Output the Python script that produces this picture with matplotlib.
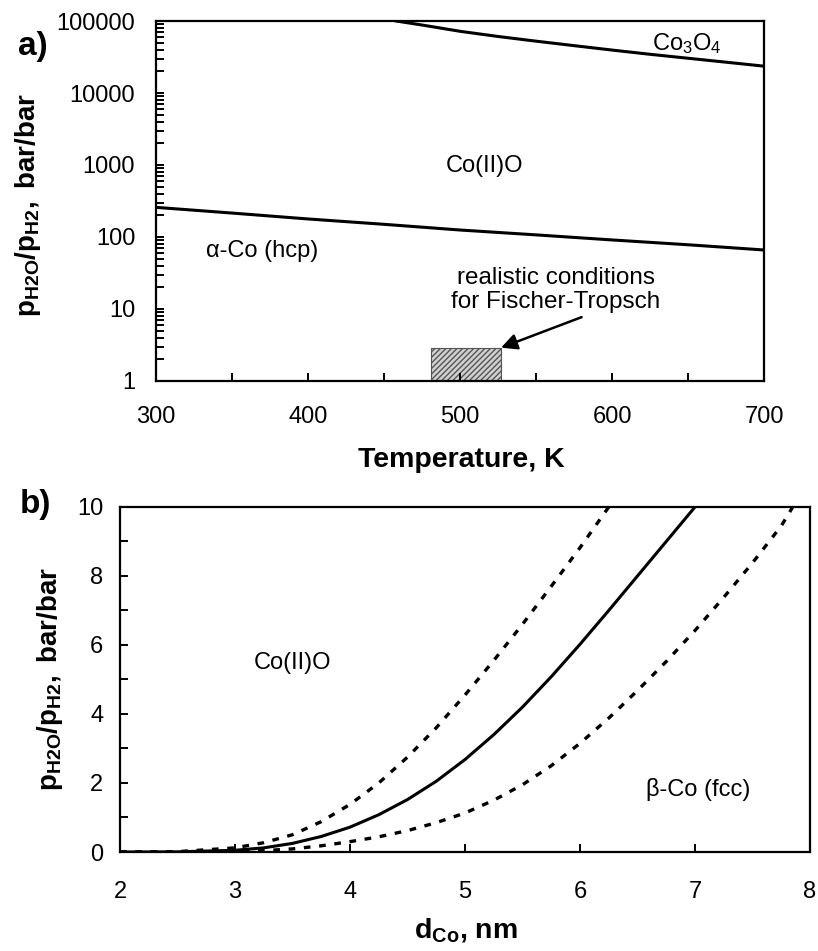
import matplotlib
matplotlib.use("Agg")
import matplotlib.pyplot as plt
import numpy as np
from matplotlib.ticker import FixedLocator, FuncFormatter, MultipleLocator, LogLocator, NullFormatter

plt.rcParams['font.family'] = ['Liberation Sans', 'DejaVu Sans']
plt.rcParams['mathtext.fontset'] = 'custom'
plt.rcParams['mathtext.rm'] = 'Liberation Sans'
plt.rcParams['mathtext.it'] = 'Liberation Sans:italic'
plt.rcParams['mathtext.bf'] = 'Liberation Sans:bold'

# panel a: phase boundaries vs temperature
t_co3o4 = [458, 475, 500, 525, 550, 575, 600, 625, 650, 675, 700]
p_co3o4 = [100000, 88000, 72000, 61000, 52500, 45500, 39500, 34500, 30400, 26800, 23600]
t_coo = [300, 350, 400, 450, 500, 550, 600, 650, 700]
p_coo = [258, 215, 178, 150, 125, 107, 91, 78, 66]
ft_box_t = [481, 527]
ft_box_p = [1, 2.9]

# panel b: boundary vs particle size
d_mid = [2, 2.5, 3, 3.25, 3.5, 3.75, 4, 4.25, 4.5, 4.75, 5, 5.25, 5.5, 5.75, 6, 6.25, 6.5, 6.75, 7]
p_mid = [0, 0.005, 0.05, 0.12, 0.25, 0.45, 0.72, 1.08, 1.52, 2.05, 2.68, 3.4, 4.2, 5.08, 6.02, 7.0, 8.0, 9.0, 10.0]
d_up = [2, 2.5, 3, 3.25, 3.5, 3.75, 4, 4.25, 4.5, 4.75, 5, 5.25, 5.5, 5.75, 6, 6.25]
p_up = [0, 0.01, 0.12, 0.27, 0.5, 0.88, 1.38, 2.0, 2.75, 3.6, 4.55, 5.55, 6.6, 7.7, 8.82, 10.0]
d_lo = [2, 2.5, 3, 3.25, 3.5, 3.75, 4, 4.25, 4.5, 4.75, 5, 5.25, 5.5, 5.75, 6, 6.25,
        6.5, 6.75, 7, 7.25, 7.5, 7.75, 7.85]
p_lo = [0, 0.0, 0.01, 0.04, 0.09, 0.18, 0.3, 0.44, 0.62, 0.85, 1.13, 1.5, 1.95, 2.5, 3.15, 3.88,
        4.68, 5.52, 6.42, 7.38, 8.38, 9.45, 10.0]

fig = plt.figure(figsize=(8.18, 9.51), dpi=100)
ax1 = fig.add_axes([0.1907, 0.5994, 0.7433, 0.3785])
ax2 = fig.add_axes([0.1467, 0.1041, 0.8435, 0.3628])

tick_fs = 17
txt_fs = 17
for ax in (ax1, ax2):
    for s in ax.spines.values():
        s.set_linewidth(1.6)
    ax.tick_params(which='both', direction='in', length=6, width=1.4,
                   top=False, right=False, labelsize=tick_fs)

# ---- panel a ----
ax1.plot(t_co3o4, p_co3o4, color='black', lw=2.2)
ax1.plot(t_coo, p_coo, color='black', lw=2.2)
ax1.fill_between(ft_box_t, ft_box_p[0], ft_box_p[1], facecolor='#d0d0d0',
                 edgecolor='#555555', hatch='//////', lw=0.8)
ax1.set_yscale('log')
ax1.set_xlim(300, 700)
ax1.set_ylim(1, 100000)
ax1.xaxis.set_major_locator(FixedLocator([300, 400, 500, 600, 700]))
ax1.xaxis.set_minor_locator(FixedLocator([350, 450, 550, 650]))
ax1.yaxis.set_major_locator(LogLocator(base=10))
ax1.yaxis.set_minor_locator(LogLocator(base=10, subs=np.arange(2, 10)))
ax1.yaxis.set_minor_formatter(NullFormatter())
ax1.yaxis.set_major_formatter(FuncFormatter(lambda v, p: '%d' % round(v)))
ax1.tick_params(axis='x', which='both', pad=18)
ax1.tick_params(axis='y', which='both', pad=15)

ax1.text(649, 49000, r'Co$_3$O$_4$', fontsize=txt_fs, ha='center', va='center')
ax1.text(516, 980, 'Co(II)O', fontsize=txt_fs, ha='center', va='center')
ax1.text(370, 63, 'α-Co (hcp)', fontsize=txt_fs, ha='center', va='center')
ax1.text(563, 18.3, 'realistic conditions\nfor Fischer-Tropsch', fontsize=17.5,
         ha='center', va='center', linespacing=1.12)
ax1.annotate('', xy=(527, 2.9), xytext=(580, 7.7),
             arrowprops=dict(arrowstyle='-|>', color='black', lw=1.8,
                             mutation_scale=24, shrinkA=0, shrinkB=0))

# ---- panel b ----
ax2.plot(d_mid, p_mid, color='black', lw=2.2)
ax2.plot(d_up, p_up, color='black', lw=2.4, linestyle=(0, (2, 2.6)))
ax2.plot(d_lo, p_lo, color='black', lw=2.4, linestyle=(0, (2, 2.6)))
ax2.set_xlim(2, 8)
ax2.set_ylim(0, 10)
ax2.xaxis.set_major_locator(MultipleLocator(1))
ax2.yaxis.set_major_locator(MultipleLocator(2))
ax2.yaxis.set_minor_locator(MultipleLocator(1))
ax2.tick_params(axis='x', pad=21)
ax2.tick_params(axis='y', which='both', pad=12)
ax2.text(3.5, 5.47, 'Co(II)O', fontsize=txt_fs, ha='center', va='center')
ax2.text(7.03, 1.82, 'β-Co (fcc)', fontsize=txt_fs, ha='center', va='center')

# labels
ylab = r'$\mathbf{p_{H2O}/p_{H2},\ bar/bar}$'
fig.text(28 / 818, 1 - 205 / 951, ylab, fontsize=20, rotation=90, ha='center', va='center')
fig.text(50 / 818, 1 - 679 / 951, ylab, fontsize=20, rotation=90, ha='center', va='center')
fig.text(461 / 818, 1 - 460 / 951, 'Temperature, K', fontsize=20.5, fontweight='bold',
         ha='center', va='center')
fig.text(466 / 818, 1 - 930 / 951, r'$\mathbf{d_{Co}}$, nm', fontsize=20.5, fontweight='bold',
         ha='center', va='center')
fig.text(33 / 818, 1 - 47 / 951, 'a)', fontsize=24, fontweight='bold', ha='center', va='center')
fig.text(35 / 818, 1 - 505 / 951, 'b)', fontsize=24, fontweight='bold', ha='center', va='center')

plt.savefig('out.png', dpi=100)
